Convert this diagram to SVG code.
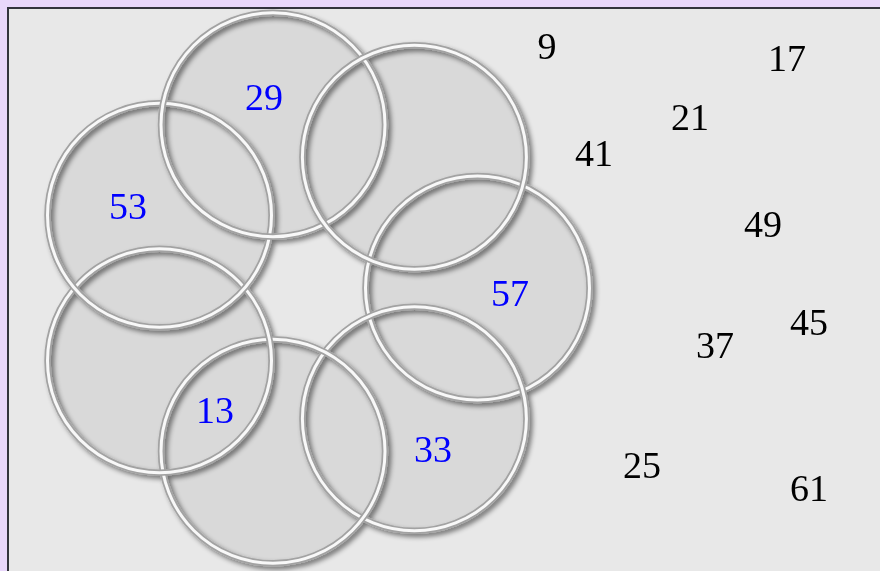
<svg xmlns="http://www.w3.org/2000/svg" width="880" height="571" viewBox="0 0 880 571">
<defs>
<filter id="sh" x="-20%" y="-20%" width="140%" height="140%">
<feGaussianBlur in="SourceGraphic" stdDeviation="0.6" result="src"/>
<feGaussianBlur in="SourceAlpha" stdDeviation="2.5" result="b"/>
<feOffset in="b" dx="3" dy="3" result="o"/>
<feComponentTransfer in="o" result="s"><feFuncA type="linear" slope="0.5"/></feComponentTransfer>
<feMerge><feMergeNode in="s"/><feMergeNode in="src"/></feMerge>
</filter>
<circle id="c" r="112"/>
</defs>
<style>
.fill{fill:#d9d9d9;stroke:none}
.ro{fill:none;stroke:#a2a2a2;stroke-width:6.5}
.ri{fill:none;stroke:#f8f8f8;stroke-width:3}
.in{font-family:"Liberation Serif","Times New Roman",serif;font-size:38px;fill:#0000ff;text-anchor:middle}
.out{font-family:"Liberation Serif","Times New Roman",serif;font-size:38px;fill:#000;text-anchor:middle}
</style>
<rect x="0" y="0" width="880" height="571" fill="#e9d7fb"/>
<rect x="8" y="8" width="900" height="600" fill="#e8e8e8" stroke="#33333d" stroke-width="2"/>
<g id="fills">
<use href="#c" x="477.5" y="288" class="fill"/>
<use href="#c" x="414.4" y="418.8" class="fill"/>
<use href="#c" x="273" y="451.3" class="fill"/>
<use href="#c" x="159.5" y="360.7" class="fill"/>
<use href="#c" x="159.5" y="215.3" class="fill"/>
<use href="#c" x="273" y="124.7" class="fill"/>
<use href="#c" x="414.4" y="157.2" class="fill"/>
</g>
<g id="rings" filter="url(#sh)">
<g id="n1"><use href="#c" x="477.5" y="288" class="ro"/><use href="#c" x="477.5" y="288" class="ri"/></g>
<g id="n2"><use href="#c" x="414.4" y="418.8" class="ro"/><use href="#c" x="414.4" y="418.8" class="ri"/></g>
<g id="n3"><use href="#c" x="273" y="451.3" class="ro"/><use href="#c" x="273" y="451.3" class="ri"/></g>
<g id="n4"><use href="#c" x="159.5" y="360.7" class="ro"/><use href="#c" x="159.5" y="360.7" class="ri"/></g>
<g id="n5"><use href="#c" x="159.5" y="215.3" class="ro"/><use href="#c" x="159.5" y="215.3" class="ri"/></g>
<g id="n6"><use href="#c" x="273" y="124.7" class="ro"/><use href="#c" x="273" y="124.7" class="ri"/></g>
<g id="n7"><use href="#c" x="414.4" y="157.2" class="ro"/><use href="#c" x="414.4" y="157.2" class="ri"/></g>
</g>
<g id="inner-labels">
<text class="in" x="264" y="110">29</text>
<text class="in" x="128" y="219">53</text>
<text class="in" x="510" y="306">57</text>
<text class="in" x="215" y="423">13</text>
<text class="in" x="433" y="462">33</text>
</g>
<g id="outer-labels">
<text class="out" x="547" y="59">9</text>
<text class="out" x="787" y="71">17</text>
<text class="out" x="690" y="130">21</text>
<text class="out" x="594" y="166">41</text>
<text class="out" x="763" y="237">49</text>
<text class="out" x="809" y="335">45</text>
<text class="out" x="715" y="358">37</text>
<text class="out" x="642" y="478">25</text>
<text class="out" x="809" y="501">61</text>
</g>
<g id="connectors"/>
</svg>
